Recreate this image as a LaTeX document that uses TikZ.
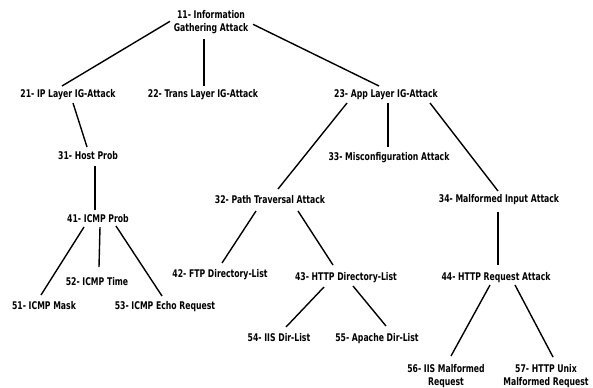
\documentclass[tikz,border=0pt]{standalone}
\usepackage{fontspec}
\newfontfamily\condfont{DejaVu Sans Condensed}[FakeStretch=0.81]
\newcommand{\lblfont}{\condfont\fontsize{10.6bp}{13.5bp}\selectfont\bfseries}
\tikzset{
  lbl/.style={inner sep=0pt, font=\lblfont, text height=7.7bp, text depth=0pt},
  lbltwo/.style={inner sep=0pt, font=\lblfont, align=center},
  edge/.style={line width=1.4bp, black}
}
\begin{document}
\begin{tikzpicture}[x=1bp,y=-1bp]
\useasboundingbox (0,0) rectangle (593,387);
\node[lbltwo] (n11) at (211,22.3) {11- Information\\Gathering Attack};
\node[lbl] (n21) at (68,94) {21- IP Layer IG-Attack};
\node[lbl] (n22) at (203,94) {22- Trans Layer IG-Attack};
\node[lbl] (n23) at (386,94) {23- App Layer IG-Attack};
\node[lbl] (n31) at (88,156) {31- Host Prob};
\node[lbl] (n33) at (389,157) {33- Misconfiguration Attack};
\node[lbl] (n32) at (270,200) {32- Path Traversal Attack};
\node[lbl] (n34) at (499,199) {34- Malformed Input Attack};
\node[lbl] (n41) at (98,219) {41- ICMP Prob};
\node[lbl] (n42) at (220,274) {42- FTP Directory-List};
\node[lbl] (n43) at (346,277) {43- HTTP Directory-List};
\node[lbl] (n44) at (496,277) {44- HTTP Request Attack};
\node[lbl] (n52) at (97,282) {52- ICMP Time};
\node[lbl] (n51) at (44,306) {51- ICMP Mask};
\node[lbl] (n53) at (165,306) {53- ICMP Echo Request};
\node[lbl] (n54) at (279,338) {54- IIS Dir-List};
\node[lbl] (n55) at (377,338) {55- Apache Dir-List};
\node[lbltwo] (n56) at (446,376) {56- IIS Malformed\\Request};
\node[lbltwo] (n57) at (546,376) {57- HTTP Unix\\Malformed Request};

\draw[edge] ([shift={(-41,-1)}]n11.center) -- ([shift={(-6,-8)}]n21.center);
\draw[edge] ([shift={(-7,17)}]n11.center) -- ([shift={(1,-8)}]n22.center);
\draw[edge] ([shift={(42,2)}]n11.center) -- ([shift={(-7,-8)}]n23.center);
\draw[edge] ([shift={(5,9)}]n21.center) -- ([shift={(-1,-9)}]n31.center);
\draw[edge] ([shift={(7,10)}]n31.center) -- ([shift={(-3,-9)}]n41.center);
\draw[edge] ([shift={(-14,8)}]n41.center) -- ([shift={(-3,-11)}]n51.center);
\draw[edge] ([shift={(2,8)}]n41.center) -- ([shift={(2,-15)}]n52.center);
\draw[edge] ([shift={(18,7)}]n41.center) -- ([shift={(-3,-10)}]n53.center);
\draw[edge] ([shift={(-39,9)}]n23.center) -- ([shift={(8,-11)}]n32.center);
\draw[edge] ([shift={(2,9)}]n23.center) -- ([shift={(-1,-10)}]n33.center);
\draw[edge] ([shift={(44,9)}]n23.center) -- ([shift={(-1,-8)}]n34.center);
\draw[edge] ([shift={(-14,11)}]n32.center) -- ([shift={(2,-11)}]n42.center);
\draw[edge] ([shift={(28,11)}]n32.center) -- ([shift={(-13,-12)}]n43.center);
\draw[edge] ([shift={(-1,13)}]n34.center) -- ([shift={(2,-12)}]n44.center);
\draw[edge] ([shift={(-22,10)}]n43.center) -- ([shift={(7,-11)}]n54.center);
\draw[edge] ([shift={(7,9)}]n43.center) -- ([shift={(9,-12)}]n55.center);
\draw[edge] ([shift={(-6,8)}]n44.center) -- ([shift={(5,-20)}]n56.center);
\draw[edge] ([shift={(19,8)}]n44.center) -- ([shift={(7,-19)}]n57.center);
\end{tikzpicture}
\end{document}
